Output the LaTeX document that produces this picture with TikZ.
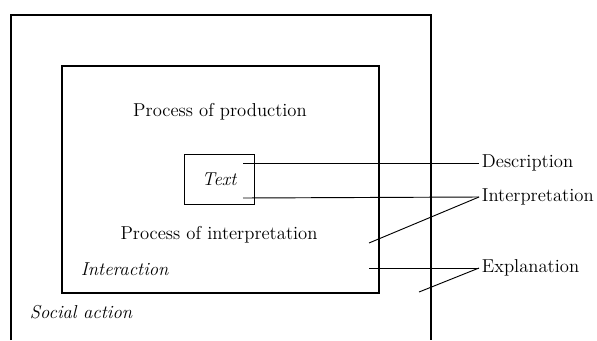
\documentclass[tikz,border=0pt]{standalone}
\usepackage{tikz}

\begin{document}
\begin{tikzpicture}[x=0.75pt,y=-0.75pt,frame/.style={line width=0.9pt},link/.style={line width=0.7pt},caption/.style={font=\fontsize{14}{16}\selectfont,inner sep=2pt}]
  \useasboundingbox (0,0) rectangle (597,340);

  % social action, open at the bottom
  \draw[frame] (11,340) -- (11,15) -- (431,15) -- (431,340);
  % interaction
  \draw[frame] (62,66) rectangle (379,293);

  \node[caption,draw,frame,minimum width=52pt,minimum height=38pt] (text) at (219.5,179.5) {\textit{Text}};

  \node[caption] (prod) at (220,112) {Process of production};
  \node[caption] (interp) at (219,235) {Process of interpretation};
  \node[caption,anchor=west] (inter) at (78,269) {\textit{Interaction}};
  \node[caption,anchor=west] (social) at (27,312) {\textit{Social action}};

  \node[caption,anchor=west] (desc) at (479,163) {Description};
  \node[caption,anchor=west] (interpr) at (479,197) {Interpretation};
  \node[caption,anchor=west] (expl) at (479,268) {Explanation};

  \coordinate (d1) at (243,163);
  \coordinate (i1) at (243,198);
  \coordinate (i2) at (369,243);
  \coordinate (e1) at (369,268);
  \coordinate (e2) at (419,292);

  \draw[link] (d1) -- (desc.west);
  \draw[link] (i1) -- (interpr.west);
  \draw[link] (i2) -- (interpr.west);
  \draw[link] (e1) -- (expl.west);
  \draw[link] (e2) -- (expl.west);
\end{tikzpicture}
\end{document}
